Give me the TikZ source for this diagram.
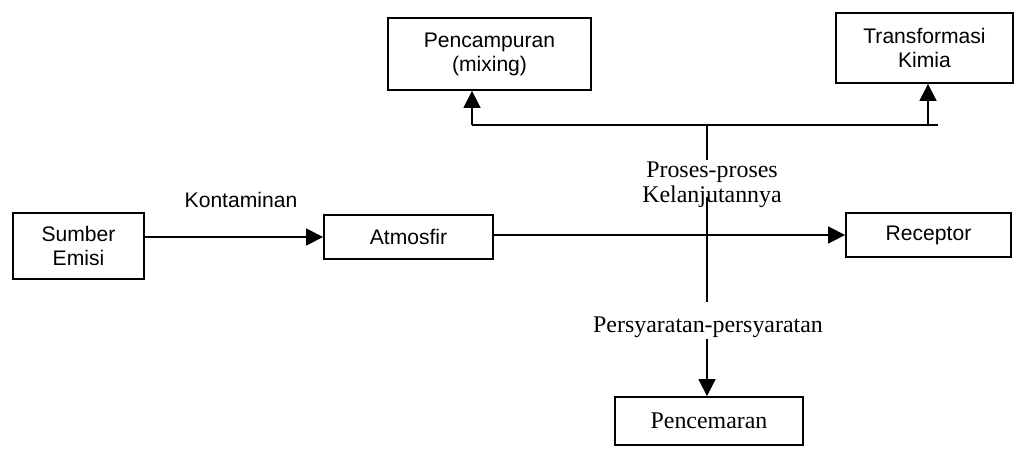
\documentclass[tikz,border=0pt]{standalone}
\usepackage{fontspec}
\setmainfont{Liberation Serif}
\setsansfont{Liberation Sans}
\usetikzlibrary{positioning, arrows.meta}

\begin{document}
\begin{tikzpicture}[
    x=0.025cm, y=-0.025cm,
    box/.style={draw, line width=1.3pt, inner sep=2pt, align=center, font=\sffamily\fontsize{15}{17}\selectfont},
    serifbox/.style={box, font=\fontsize{17}{19}\selectfont},
    tag/.style={font=\fontsize{17}{19}\selectfont, inner sep=1pt},
    sanstag/.style={font=\sffamily\fontsize{15}{17}\selectfont, inner sep=1pt},
    link/.style={line width=1.2pt},
    flow/.style={link, -{Triangle[length=12pt, width=12pt]}}
]
    \useasboundingbox (0,0) rectangle (1016,448);

    % --- MAIN CHAIN: source, atmosphere, receptor ---
    \node[box, minimum width=3.275cm, minimum height=1.65cm] (sumber) at (78.5,246) {Sumber\\Emisi};
    \node[box, minimum width=4.225cm, minimum height=1.1cm] (atmosfir) at (408.5,237) {Atmosfir};
    \node[box, minimum width=4.125cm, minimum height=1.1cm] (receptor) at (928.5,235) {Receptor};
    \node[sanstag] (kontaminan) at (241,200) {Kontaminan};

    % --- FOLLOW-UP PROCESSES (top) ---
    \node[box, minimum width=5.075cm, minimum height=1.8cm] (pencampuran) at (489.5,54) {Pencampuran\\(mixing)};
    \node[box, minimum width=4.425cm, minimum height=1.75cm] (transformasi) at (924.5,48) {Transformasi\\Kimia};
    \node[tag] (proses) at (712,172) {Proses-proses};
    \node[tag, below=0pt of proses] (lanjut) {Kelanjutannya};

    % --- CONDITIONS AND POLLUTION (bottom) ---
    \node[tag] (persyaratan) at (708,327) {Persyaratan-persyaratan};
    \node[serifbox, minimum width=4.7cm, minimum height=1.2cm] (pencemaran) at (709,421) {Pencemaran};

    % --- JUNCTION POINTS ---
    \coordinate (junction) at (707,125);
    \coordinate (mixfoot) at (472,125);
    \coordinate (chemfoot) at (928,125);
    \coordinate (barend) at (938,125);
    \coordinate (stemend) at (707,302);

    % --- CONNECTIONS ---
    \draw[flow] (sumber.east |- atmosfir.west) -- (atmosfir.west);
    \draw[flow] (atmosfir.east |- receptor.west) -- (receptor.west);

    \draw[link] (mixfoot) -- (barend);
    \draw[flow] (mixfoot) -- (mixfoot |- pencampuran.south);
    \draw[flow] (chemfoot) -- (chemfoot |- transformasi.south);

    \draw[link] (junction) -- (junction |- proses.north);
    \draw[link] (junction |- lanjut.center) -- (stemend);
    \draw[flow] (junction |- persyaratan.south) -- (junction |- pencemaran.north);

\end{tikzpicture}
\end{document}
